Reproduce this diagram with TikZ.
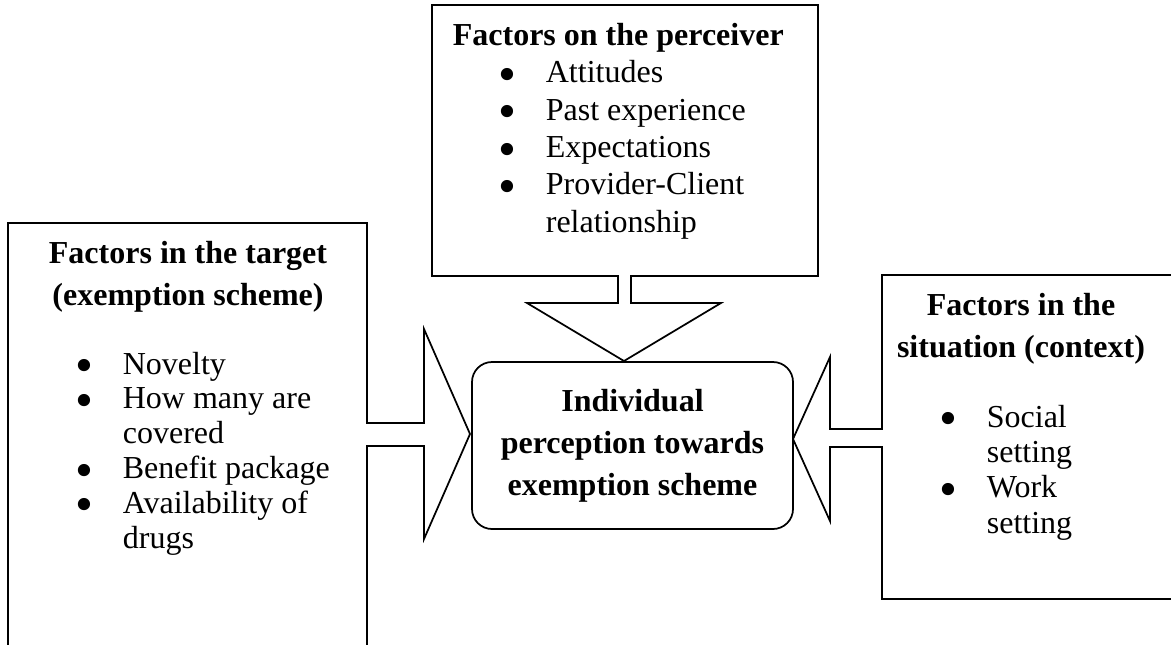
\documentclass[tikz,border=0pt]{standalone}
\usepackage{fontspec}
\setmainfont{Liberation Serif}

\newcommand{\blt}{\makebox[35.25pt][l]{\raisebox{-6.5pt}[0pt][0pt]{\scalebox{1.6}{\textbullet}}}}
\newcommand{\hng}{\hspace*{35.25pt}}

\begin{document}
\begin{tikzpicture}[x=0.75pt, y=-0.75pt, line width=1.3pt]
		\tikzset{
			heading/.style={font=\bfseries\fontsize{24}{31.5}\selectfont, align=center, anchor=base, inner sep=0pt},
			items/.style={font=\fontsize{24}{#1}\selectfont, align=left, anchor=base west, inner sep=0pt},
		}
		\clip (0,0) rectangle (1171,644);

		% callout shapes
		\draw (8,690) -- (8,223) -- (367,223) -- (367,423) -- (424,423) -- (424,329)
			-- (470,434) -- (424,539) -- (424,446) -- (367,446) -- (367,690);
		\draw (432,5) -- (818,5) -- (818,276) -- (631,276) -- (631,303) -- (721,303)
			-- (624,361) -- (527,303) -- (618,303) -- (618,276) -- (432,276) -- cycle;
		\draw (1190,275) -- (882,275) -- (882,429) -- (830,429) -- (830,357)
			-- (793,439) -- (830,521) -- (830,447) -- (882,447) -- (882,599) -- (1190,599);

		% centre
		\node[draw, rounded corners=15pt, minimum width=240.75pt, minimum height=125.25pt,
			align=center, font=\bfseries\fontsize{24}{31.5}\selectfont]
			(perc) at (632.5,445.5) {Individual\\perception towards\\exemption scheme};

		% perceiver (anchors sit on the last baseline)
		\node[heading, anchor=base west] (percT) at (452,45) {Factors on the perceiver};
		\node[items=28] (percL) at (498,232) {\blt Attitudes\\ \blt Past experience\\ \blt Expectations\\
			\blt Provider-Client\\ \hng relationship};

		% target
		\node[heading] (targT) at (188,305) {Factors in the target\\(exemption scheme)};
		\node[items=26.1] (targL) at (75,548) {\blt Novelty\\ \blt How many are\\ \hng covered\\
			\blt Benefit package\\ \blt Availability of\\ \hng drugs};

		% situation
		\node[heading] (sitT) at (1021,357) {Factors in the\\situation (context)};
		\node[items=26.5] (sitL) at (939,533) {\blt Social\\ \hng setting\\ \blt Work\\ \hng setting};
	\end{tikzpicture}
\end{document}
